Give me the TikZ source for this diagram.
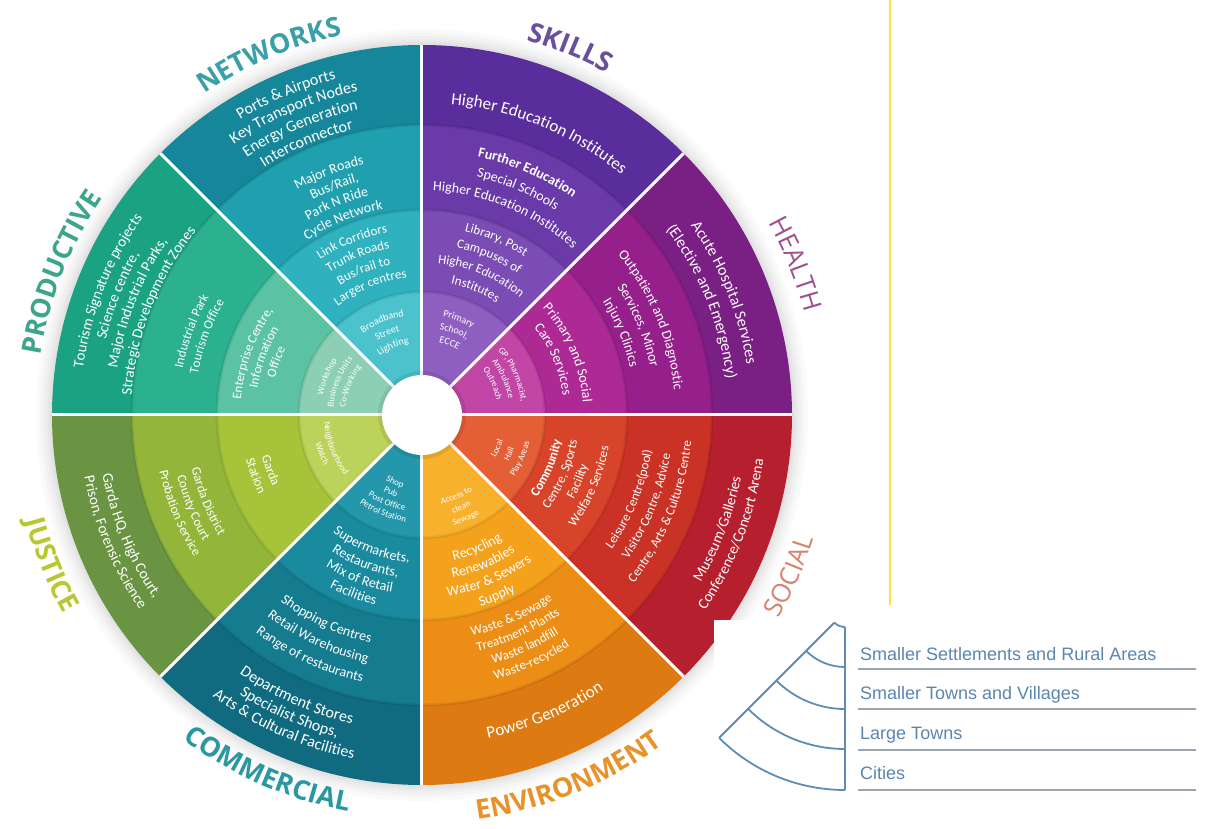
\documentclass[tikz,border=0pt]{standalone}
\usepackage{fontspec}
\setmainfont{Carlito}
\newfontfamily\catfont{Open Sans}
\newfontfamily\legfont{Liberation Sans}
\usetikzlibrary{decorations.text}
\definecolor{nw1}{HTML}{16879A}\definecolor{nw2}{HTML}{20A0AE}\definecolor{nw3}{HTML}{2FB1BE}\definecolor{nw4}{HTML}{4CC2CC}
\definecolor{sk1}{HTML}{5A2D9C}\definecolor{sk2}{HTML}{6A3AA8}\definecolor{sk3}{HTML}{7A4CB4}\definecolor{sk4}{HTML}{8E5FC0}
\definecolor{he1}{HTML}{7A1F83}\definecolor{he2}{HTML}{951F8B}\definecolor{he3}{HTML}{AD2A95}\definecolor{he4}{HTML}{C146A5}
\definecolor{so1}{HTML}{B61F2E}\definecolor{so2}{HTML}{C93225}\definecolor{so3}{HTML}{D8442A}\definecolor{so4}{HTML}{E45E36}
\definecolor{en1}{HTML}{DD7A12}\definecolor{en2}{HTML}{EC8E16}\definecolor{en3}{HTML}{F4A21C}\definecolor{en4}{HTML}{F7B12C}
\definecolor{co1}{HTML}{106B80}\definecolor{co2}{HTML}{157B8F}\definecolor{co3}{HTML}{1A8A9F}\definecolor{co4}{HTML}{2497AB}
\definecolor{ju1}{HTML}{6A9442}\definecolor{ju2}{HTML}{93B63A}\definecolor{ju3}{HTML}{A6C33A}\definecolor{ju4}{HTML}{BDD25A}
\definecolor{pr1}{HTML}{1AA283}\definecolor{pr2}{HTML}{2BB090}\definecolor{pr3}{HTML}{5CC2A4}\definecolor{pr4}{HTML}{8CCFB5}
\definecolor{lnw}{HTML}{3A9FA6}\definecolor{lsk}{HTML}{6A4F9C}\definecolor{lhe}{HTML}{A0508F}\definecolor{lso}{HTML}{D9826E}
\definecolor{len}{HTML}{E8922A}\definecolor{lco}{HTML}{2A98A0}\definecolor{lju}{HTML}{B8C832}\definecolor{lpr}{HTML}{3DA58A}
\definecolor{legblue}{HTML}{5A86B0}\definecolor{legicon}{HTML}{5E8CB8}\definecolor{legline}{HTML}{9AA5B0}
\definecolor{yel}{HTML}{F8E43A}
\newcommand\W{\color{white}}
\newcommand\sector[5]{%
 \fill[#2] (0,0) -- ({#1}:370) arc[start angle={#1},end angle={#1+45},radius=370] -- cycle;
 \fill[#3] (0,0) -- ({#1}:290) arc[start angle={#1},end angle={#1+45},radius=290] -- cycle;
 \fill[#4] (0,0) -- ({#1}:205) arc[start angle={#1},end angle={#1+45},radius=205] -- cycle;
 \fill[#5] (0,0) -- ({#1}:123) arc[start angle={#1},end angle={#1+45},radius=123] -- cycle;}
\newcommand\cw[5]{%
 \pgfmathsetmacro\myrb{#1-0.34*#3}%
 \path[decorate,decoration={text along path,text align=center,text={|\fontsize{#3pt}{#3pt}\selectfont#4|#5}}]
   ({#2+85}:\myrb) arc[start angle={#2+85},end angle={#2-85},radius=\myrb];}
\newcommand\ccw[5]{%
 \pgfmathsetmacro\myrb{#1+0.34*#3}%
 \path[decorate,decoration={text along path,text align=center,text={|\fontsize{#3pt}{#3pt}\selectfont#4|#5}}]
   ({#2-85}:\myrb) arc[start angle={#2-85},end angle={#2+85},radius=\myrb];}
\tikzset{legtext/.style={anchor=base west,inner sep=0pt,text=legblue,font=\legfont\fontsize{18pt}{18pt}\selectfont},
 legrule/.style={draw=legline,line width=1.2pt},
 legarc/.style={draw=legicon,line width=1.8pt}}
\begin{document}
\begin{tikzpicture}[x=1pt,y=1pt]
\useasboundingbox (-422,-414) rectangle (788,415);
\fill[white] (-422,-414) rectangle (788,415);
% soft shadow
\foreach \k in {16,12,9,6,4,2} \fill[black,opacity=0.018] (0,0) circle (370+\k);
% sectors
\sector{90}{nw1}{nw2}{nw3}{nw4}
\sector{45}{sk1}{sk2}{sk3}{sk4}
\sector{0}{he1}{he2}{he3}{he4}
\sector{-45}{so1}{so2}{so3}{so4}
\sector{-90}{en1}{en2}{en3}{en4}
\sector{-135}{co1}{co2}{co3}{co4}
\sector{180}{ju1}{ju2}{ju3}{ju4}
\sector{135}{pr1}{pr2}{pr3}{pr4}
\foreach \r in {123,205,290} \draw[black,opacity=0.07,line width=3pt] (0,0) circle (\r);
\foreach \a in {0,45,...,315} \draw[white,line width=3pt] (\a:40) -- (\a:370);
\fill[black,opacity=0.08] (0,0) circle (44);
\fill[white] (0,0) circle (40);
% NETWORKS
\cw{352}{113}{16}{\W}{Ports {\&} Airports}
\cw{335}{113}{16}{\W}{Key Transport Nodes}
\cw{317}{113}{16}{\W}{Energy Generation}
\cw{299}{113}{16}{\W}{Interconnector}
\cw{262}{111}{14}{\W}{Major Roads}
\cw{246}{111}{14}{\W}{Bus/Rail,}
\cw{230}{112}{14}{\W}{Park N Ride}
\cw{214}{112}{14}{\W}{Cycle Network}
\cw{190}{112}{13}{\W}{Link Corridors}
\cw{174}{112}{13}{\W}{Trunk Roads}
\cw{158}{112}{13}{\W}{Bus/rail to}
\cw{142}{112}{13}{\W}{Larger centres}
\cw{104}{113}{10}{\W}{Broadband}
\cw{90}{113}{10}{\W}{Street}
\cw{76}{113}{10}{\W}{Lighting}
% SKILLS
\cw{318}{67.5}{17}{\W}{Higher Education Institutes}
\cw{269}{66.5}{14}{\W\bfseries}{Further Education}
\cw{249}{67}{14}{\W}{Special Schools}
\cw{229}{67.5}{14}{\W}{Higher Education Institutes}
\cw{193}{67}{13}{\W}{Library, Post}
\cw{175}{67}{13}{\W}{Campuses of}
\cw{157}{67}{13}{\W}{Higher Education}
\cw{139}{67}{13}{\W}{Institutes}
\cw{104}{69}{10}{\W}{Primary}
\cw{91}{69}{10}{\W}{School,}
\cw{78}{69}{10}{\W}{ECCE}
% HEALTH
\cw{334}{22}{16}{\W}{Acute Hospital Services}
\cw{312}{22}{16}{\W}{(Elective and Emergency)}
\cw{258}{22.5}{14}{\W}{Outpatient and Diagnostic}
\cw{238}{22.5}{14}{\W}{Services, Minor}
\cw{218}{22.5}{14}{\W}{Injury Clinics}
\cw{166}{23}{14}{\W}{Primary and Social}
\cw{147}{23}{14}{\W}{Care Services}
\cw{103}{24}{9}{\W}{GP, Pharmacist,}
\cw{91}{24}{9}{\W}{Ambulance}
\cw{79}{24}{9}{\W}{Outreach}
% SOCIAL
\ccw{320}{-21}{15}{\W}{Museum/Galleries}
\ccw{339}{-21}{15}{\W}{Conference/Concert Arena}
\ccw{228}{-22}{13}{\W}{Leisure Centre(pool)}
\ccw{247}{-22}{13}{\W}{Visitor Centre, Advice}
\ccw{266}{-22}{13}{\W}{Centre, Arts {\&} Culture Centre}
\ccw{137}{-23}{13}{\W\bfseries}{Community}
\ccw{153}{-23}{13}{\W}{Centre, Sports}
\ccw{169}{-23}{13}{\W}{Facility}
\ccw{185}{-23}{13}{\W}{Welfare Services}
\ccw{82}{-24}{9}{\W}{Local}
\ccw{95}{-24}{9}{\W}{Hall}
\ccw{108}{-24}{9}{\W}{Play Areas}
% ENVIRONMENT
\ccw{324}{-67.5}{17}{\W}{Power Generation}
\ccw{222}{-66}{13}{\W}{Waste {\&} Sewage}
\ccw{238}{-66}{13}{\W}{Treatment Plants}
\ccw{254}{-66}{13}{\W}{Waste landfill}
\ccw{270}{-66}{13}{\W}{Waste-recycled}
\ccw{144}{-67.5}{14}{\W}{Recycling}
\ccw{161}{-67.5}{14}{\W}{Renewables}
\ccw{178}{-67.5}{14}{\W}{Water {\&} Sewers}
\ccw{195}{-67.5}{14}{\W}{Supply}
\ccw{88}{-67}{9}{\W}{Access to}
\ccw{100}{-67}{9}{\W}{clean}
\ccw{112}{-67}{9}{\W}{Sewage}
% COMMERCIAL
\ccw{311}{-114}{16}{\W}{Department Stores}
\ccw{328}{-114}{16}{\W}{Specialist Shops,}
\ccw{345}{-114}{16}{\W}{Arts {\&} Cultural Facilities}
\ccw{229}{-115}{14}{\W}{Shopping Centres}
\ccw{249}{-115}{14}{\W}{Retail Warehousing}
\ccw{269}{-115}{14}{\W}{Range of restaurants}
\ccw{143}{-111}{14}{\W}{Supermarkets,}
\ccw{159}{-111}{14}{\W}{Restaurants,}
\ccw{175}{-111}{14}{\W}{Mix of Retail}
\ccw{191}{-111}{14}{\W}{Facilities}
\ccw{72}{-112}{9}{\W}{Shop}
\ccw{83}{-112}{9}{\W}{Pub}
\ccw{94}{-112}{9}{\W}{Post Office}
\ccw{105}{-112}{9}{\W}{Petrol Station}
% JUSTICE
\ccw{320}{202.5}{15}{\W}{Garda HQ, High Court,}
\ccw{338}{202.5}{15}{\W}{Prison, Forensic Science}
\ccw{232}{202}{13}{\W}{Garda District}
\ccw{248}{202}{13}{\W}{County Court}
\ccw{264}{202}{13}{\W}{Probation Service}
\ccw{161}{200}{13}{\W}{Garda}
\ccw{177}{200}{13}{\W}{Station}
\ccw{95}{201}{9}{\W}{Neighbourhood}
\ccw{107}{201}{9}{\W}{Watch}
% PRODUCTIVE
\cw{347}{158.5}{15}{\W}{Tourism Signature projects}
\cw{330}{158.5}{15}{\W}{Science centre,}
\cw{313}{158.5}{15}{\W}{Major Industrial Parks,}
\cw{296}{158.5}{15}{\W}{Strategic Development Zones}
\cw{248}{160}{13}{\W}{Industrial Park}
\cw{232}{160}{13}{\W}{Tourism Office}
\cw{186}{160}{13}{\W}{Enterprise Centre,}
\cw{171}{160}{13}{\W}{Information}
\cw{156}{160}{13}{\W}{Office}
\cw{104}{158}{9}{\W}{Workshop}
\cw{92}{158}{9}{\W}{Business Units}
\cw{80}{158}{9}{\W}{Co-Working}
% category labels
\cw{397}{113}{27}{\catfont\bfseries\color{lnw}}{NETWORKS}
\cw{398}{68}{27}{\catfont\bfseries\color{lsk}}{SKILLS}
\cw{405}{22}{26}{\catfont\color{lhe}}{HEALTH}
\ccw{402}{-23.6}{26}{\catfont\color{lso}}{SOCIAL}
\ccw{399}{-68}{27}{\catfont\bfseries\color{len}}{ENVIRONMENT}
\ccw{394}{-113.5}{27}{\catfont\bfseries\color{lco}}{COMMERCIAL}
\ccw{401}{202}{27}{\catfont\bfseries\color{lju}}{JUSTICE}
\cw{395}{158.4}{27}{\catfont\bfseries\color{lpr}}{PRODUCTIVE}
% yellow rule
\draw[yel,line width=1.5pt] (468,415) -- (468,-190);
% legend panel
\fill[white] (292,-205) rectangle (788,-414);
\coordinate (L) at (423,-197);
\draw[legarc] ([shift={(225:15)}]L) -- ([shift={(225:178)}]L);
\draw[legarc] ([shift={(270:15)}]L) -- ([shift={(270:178)}]L);
\foreach \r in {15,55,97,137,178}
  \draw[legarc] ([shift={(225:\r)}]L) arc[start angle=225,end angle=270,radius=\r];
\node[legtext] (t1) at (438,-245) {Smaller Settlements and Rural Areas};
\node[legtext] (t2) at (438,-284) {Smaller Towns and Villages};
\node[legtext] (t3) at (438,-324) {Large Towns};
\node[legtext] (t4) at (438,-364) {Cities};
\foreach \y in {-254,-294,-335,-375} \draw[legrule] (436,\y) -- (774,\y);
\end{tikzpicture}
\end{document}
